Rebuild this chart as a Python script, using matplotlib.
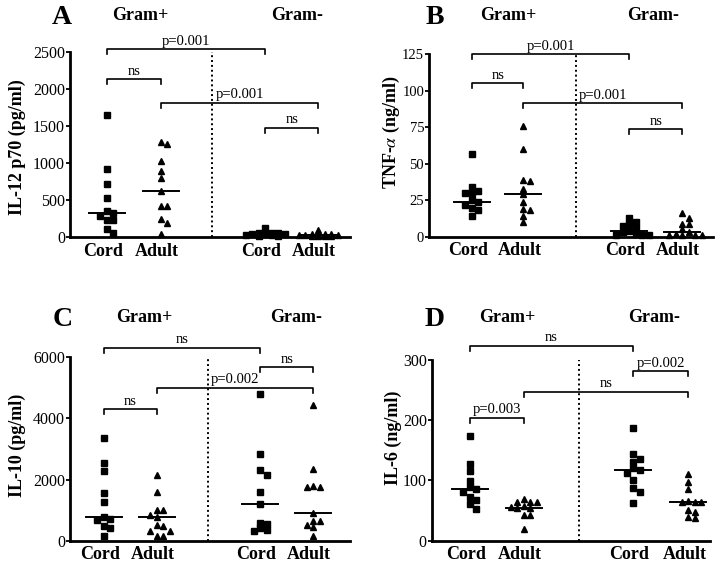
import matplotlib
matplotlib.use("Agg")
import matplotlib.pyplot as plt
from matplotlib.transforms import ScaledTranslation
import numpy as np

plt.rcParams['font.family'] = ['Liberation Serif', 'DejaVu Serif']
plt.rcParams['mathtext.fontset'] = 'stix'

W, H = 719, 567

group_labels = ["Cord", "Adult", "Cord", "Adult"]
gram_labels = ["Gram+", "Gram-"]

# ---- Panel A: IL-12 p70 (pg/ml)
il12_cord_pos = [1650, 920, 720, 530, 355, 320, 290, 230, 230, 110, 55]
il12_adult_pos = [1280, 1260, 1030, 890, 800, 625, 420, 420, 240, 195, 45]
il12_cord_neg = [115, 60, 55, 50, 45, 40, 35, 30, 25, 20, 15]
il12_adult_neg = [90, 45, 40, 35, 30, 25, 25, 20, 15, 10, 10]
il12_medians = [320, 625, 45, 28]
il12_ticks = [0, 500, 1000, 1500, 2000, 2500]
il12_brackets = [(0, 2, 2536, "p=0.001"), (0, 1, 2135, "ns"),
                 (1, 3, 1815, "p=0.001"), (2, 3, 1477, "ns")]

# ---- Panel B: TNF-alpha (ng/ml)
tnf_cord_pos = [57, 34, 31, 30, 30, 25, 24, 22, 20, 18, 14]
tnf_adult_pos = [76, 60, 39, 38, 33, 29, 24, 19, 18, 14, 10]
tnf_cord_neg = [13, 10, 9, 7, 6, 4, 3, 2, 1, 1, 1]
tnf_adult_neg = [16, 13, 9, 9, 5, 3, 2, 1, 1, 1, 1]
tnf_medians = [24, 29, 4, 3]
tnf_ticks = [0, 25, 50, 75, 100, 125]
tnf_brackets = [(0, 2, 125, "p=0.001"), (0, 1, 105.3, "ns"),
                (1, 3, 91.6, "p=0.001"), (2, 3, 73.6, "ns")]

# ---- Panel C: IL-10 (pg/ml)
il10_cord_pos = [3350, 2550, 2290, 1560, 1280, 780, 720, 670, 480, 400, 170]
il10_adult_pos = [2150, 1600, 1000, 1000, 840, 790, 500, 480, 320, 320, 150, 150]
il10_cord_neg = [4790, 2840, 2310, 2160, 1590, 1190, 590, 550, 400, 350, 330]
il10_adult_neg = [4440, 2340, 1800, 1770, 1770, 920, 650, 650, 510, 460, 150]
il10_medians = [785, 790, 1190, 920]
il10_ticks = [0, 2000, 4000, 6000]
il10_brackets = [(0, 2, 6316, "ns"), (2, 3, 5674, "ns"),
                 (1, 3, 5007, "p=0.002"), (0, 1, 4300, "ns")]

# ---- Panel D: IL-6 (ng/ml)
il6_cord_pos = [173, 127, 116, 99, 89, 86, 81, 72, 68, 61, 52]
il6_adult_pos = [70, 65, 65, 65, 57, 56, 55, 54, 43, 42, 19]
il6_cord_neg = [187, 144, 135, 131, 121, 117, 112, 100, 87, 81, 63]
il6_adult_neg = [111, 97, 86, 66, 65, 65, 65, 51, 47, 39, 37]
il6_medians = [86, 55, 117, 65]
il6_ticks = [0, 100, 200, 300]
il6_brackets = [(0, 2, 323.8, "ns"), (2, 3, 281.8, "p=0.002"),
                (1, 3, 247.4, "ns"), (0, 1, 204.3, "p=0.003")]

panels = [
    dict(letter="A", ylabel="IL-12 p70 (pg/ml)",
         data=[il12_cord_pos, il12_adult_pos, il12_cord_neg, il12_adult_neg],
         medians=il12_medians, ticks=il12_ticks, brackets=il12_brackets, tfs=11.5,
         box=(70, 52, 350, 237), pos=[1, 2, 3.93, 4.91], xlim=(0.315, 5.5), div=2.94,
         letter_xy=(62, 17), gp_xy=(140, 16), gm_xy=(297, 16), ylab_xy=(17, 147)),
    dict(letter="B", ylabel="TNF-$\\alpha$ (ng/ml)",
         data=[tnf_cord_pos, tnf_adult_pos, tnf_cord_neg, tnf_adult_neg],
         medians=tnf_medians, ticks=tnf_ticks, brackets=tnf_brackets, tfs=10.5,
         box=(429, 54.3, 713, 236.7), pos=[1, 2, 4.05, 5.07], xlim=(0.17, 5.67), div=3.02,
         letter_xy=(435, 17), gp_xy=(508, 16), gm_xy=(653, 16), ylab_xy=(391, 132)),
    dict(letter="C", ylabel="IL-10 (pg/ml)",
         data=[il10_cord_pos, il10_adult_pos, il10_cord_neg, il10_adult_neg],
         medians=il10_medians, ticks=il10_ticks, brackets=il10_brackets, tfs=11.5,
         box=(70, 357.3, 350, 540.7), pos=[1, 2, 3.97, 4.97], xlim=(0.355, 5.67), div=2.97,
         letter_xy=(63, 320), gp_xy=(144, 318), gm_xy=(296, 318), ylab_xy=(17, 445)),
    dict(letter="D", ylabel="IL-6 (ng/ml)",
         data=[il6_cord_pos, il6_adult_pos, il6_cord_neg, il6_adult_neg],
         medians=il6_medians, ticks=il6_ticks, brackets=il6_brackets, tfs=11.5,
         box=(431.7, 360, 710, 540.7), pos=[1, 2, 4.03, 5.06], xlim=(0.29, 5.46), div=3.02,
         letter_xy=(435, 320), gp_xy=(507, 318), gm_xy=(654, 318), ylab_xy=(393, 438)),
]

markers = ['s', '^', 's', '^']
msizes = [4.3, 5.0, 4.3, 5.0]

fig = plt.figure(figsize=(W / 100, H / 100), dpi=100)


def swarm(ax, x, values, step=6.5, mind=5.8, maxk=3):
    ys = ax.transData.transform(np.column_stack([np.full(len(values), x), values]))[:, 1]
    order = np.argsort(-np.asarray(values, dtype=float), kind='stable')
    cands = [0.0]
    for k in range(1, maxk + 1):
        cands += [k * step, -k * step]
    placed = []
    offs = np.zeros(len(values))
    for i in order:
        best, bestd = 0.0, -1
        for c in cands:
            d = min([np.hypot(c - px, ys[i] - py) for px, py in placed] or [1e9])
            if d >= mind:
                best = c
                break
            if d > bestd:
                best, bestd = c, d
        offs[i] = best
        placed.append((best, ys[i]))
    return offs


for p in panels:
    l, t, r, b = p['box']
    ax = fig.add_axes([l / W, 1 - b / H, (r - l) / W, (b - t) / H])
    ymax = p['ticks'][-1]
    ax.set_ylim(0, ymax)
    ax.set_xlim(*p['xlim'])
    for s in ['top', 'right']:
        ax.spines[s].set_visible(False)
    for s in ['left', 'bottom']:
        ax.spines[s].set_linewidth(2)
    ax.set_yticks(p['ticks'])
    ax.set_yticklabels([str(v) for v in p['ticks']], fontsize=p['tfs'])
    ax.tick_params(axis='y', direction='out', length=3, width=1.3, pad=0.5)
    ax.set_xticks(p['pos'])
    ax.set_xticklabels(group_labels, fontsize=13, fontweight='bold')
    ax.tick_params(axis='x', length=0, pad=4)
    for lab in ax.get_xticklabels():
        lab.set_transform(lab.get_transform() + ScaledTranslation(-0.04, 0, fig.dpi_scale_trans))

    unit_px = (r - l) / (p['xlim'][1] - p['xlim'][0])
    ypx = (b - t) / ymax

    ax.plot([p['div'], p['div']], [0, ymax], linestyle=(0, (1, 1.5)), color='black',
            lw=1.4, clip_on=False)

    for k, vals in enumerate(p['data']):
        offs = swarm(ax, p['pos'][k], vals)
        xs = p['pos'][k] + offs / unit_px
        ax.plot(xs, vals, linestyle='none', marker=markers[k], ms=msizes[k],
                color='black', mec='black', clip_on=False, zorder=3)
        hw = 18 / unit_px
        ax.plot([p['pos'][k] - hw, p['pos'][k] + hw], [p['medians'][k]] * 2,
                color='black', lw=1.4, clip_on=False, zorder=4)

    leg = 5 / ypx
    for i, j, y, txt in p['brackets']:
        x1, x2 = p['pos'][i], p['pos'][j]
        ax.plot([x1, x1, x2, x2], [y - leg, y, y, y - leg], color='black', lw=1.2,
                clip_on=False)
        ax.annotate(txt, xy=((x1 + x2) / 2, y), xytext=(0, 1), textcoords='offset points',
                    ha='center', va='bottom', fontsize=10.5, annotation_clip=False)

    fig.text(p['letter_xy'][0] / W, 1 - p['letter_xy'][1] / H, p['letter'],
             fontsize=20, fontweight='bold', ha='center', va='center')
    fig.text(p['gp_xy'][0] / W, 1 - p['gp_xy'][1] / H, gram_labels[0],
             fontsize=13, fontweight='bold', ha='center', va='center')
    fig.text(p['gm_xy'][0] / W, 1 - p['gm_xy'][1] / H, gram_labels[1],
             fontsize=13, fontweight='bold', ha='center', va='center')
    fig.text(p['ylab_xy'][0] / W, 1 - p['ylab_xy'][1] / H, p['ylabel'],
             fontsize=13, fontweight='bold', ha='center', va='center', rotation=90)

fig.savefig("out.png", dpi=100)
